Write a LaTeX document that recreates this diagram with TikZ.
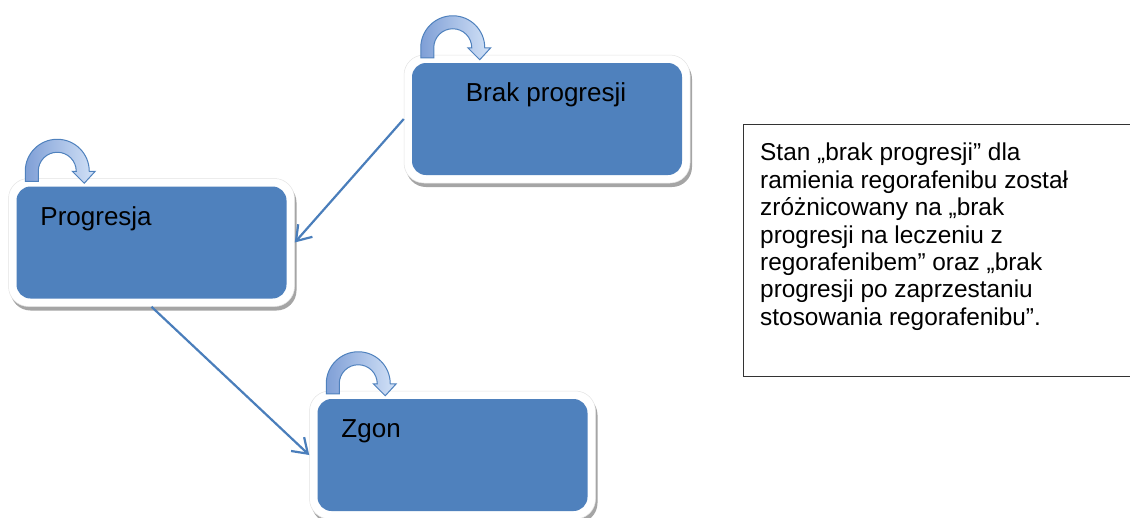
\documentclass[tikz,border=0pt]{standalone}
\usepackage{fontspec}
\setmainfont{Liberation Sans}
\usepackage{tikz}
\usetikzlibrary{arrows.meta,positioning,calc,shadows}
\usepackage{xcolor}
\definecolor{StanBlue}{HTML}{4F81BD}
\definecolor{EdgeBlue}{HTML}{4A7EBB}
\definecolor{LoopDark}{HTML}{7F9FD6}
\definecolor{LoopLight}{HTML}{D3E2F7}
\definecolor{GlowGray}{HTML}{E3E3E3}
\definecolor{ShadowGray}{HTML}{A5A5A5}

\begin{document}
\begin{tikzpicture}[x=1pt,y=1pt,
  stan/.style={rectangle,rounded corners=20pt,minimum width=286pt,minimum height=128pt,
    fill=white,draw=GlowGray,line width=0.5pt,
    drop shadow={shadow xshift=2pt,shadow yshift=-4pt,fill=ShadowGray,opacity=1},
    path picture={\fill[StanBlue,rounded corners=14pt]
      ([shift={(8pt,-8pt)}]path picture bounding box.north west) rectangle
      ([shift={(-8pt,8pt)}]path picture bounding box.south east);}},
  lbl/.style={font=\fontsize{26}{31}\selectfont,inner sep=0pt,anchor=base west},
  petla/.style={draw=StanBlue,line width=1pt,left color=LoopDark,right color=LoopLight},
  polaczenie/.style={EdgeBlue,line width=2.2pt,-{Straight Barb[length=14pt,width=19pt]}},
  opis/.style={rectangle,draw=black!80,line width=1.4pt,minimum width=400pt,minimum height=252pt,inner sep=0pt},
  tekst/.style={font=\fontsize{24.4}{27.4}\selectfont,align=left,inner sep=0pt,anchor=north west}]
  \useasboundingbox (0,0) rectangle (1130,-517);

  % states
  \node[stan] (brak) at (547,-119) {};
  \node[stan] (progresja) at (151.5,-242.5) {};
  \node[stan] (zgon) at (452.5,-455) {};

  \node[lbl,anchor=base] (brak-t) at ($(brak.north)+(-1pt,-47pt)$) {Brak progresji};
  \node[lbl] (progresja-t) at ($(progresja.north west)+(32pt,-47pt)$) {Progresja};
  \node[lbl] (zgon-t) at ($(zgon.north west)+(32pt,-47pt)$) {Zgon};

  % self loops
  \foreach \s in {brak,progresja,zgon}{
    \draw[petla] ($(\s.north west)+(17pt,-3pt)$) -- ++(0pt,10pt)
      arc[start angle=180,end angle=0,x radius=32pt,y radius=32pt]
      -- ++(6pt,0pt) -- ++(-11pt,-12pt) -- ++(-12pt,12pt) -- ++(4pt,0pt)
      arc[start angle=0,end angle=180,radius=19pt] -- ++(0pt,-10pt) -- cycle;
  }

  \draw[polaczenie] (brak.west) -- (progresja.east);
  \draw[polaczenie] (progresja.south) -- (zgon.west);

  \node[opis,anchor=north west] (opis) at (743,-124) {};
  \node[tekst] (opis-t) at ($(opis.north west)+(17pt,-19pt)$)
    {Stan „brak progresji” dla\\
     ramienia regorafenibu został\\
     zróżnicowany na „brak\\
     progresji na leczeniu z\\
     regorafenibem” oraz „brak\\
     progresji po zaprzestaniu\\
     stosowania regorafenibu”.};
\end{tikzpicture}
\end{document}
